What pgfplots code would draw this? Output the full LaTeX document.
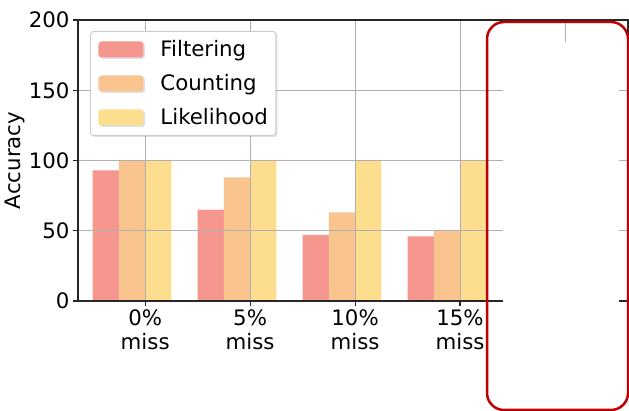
\documentclass[border=0pt]{standalone}
\usepackage{fontspec}
\setmainfont{DejaVu Sans}
\usepackage{pgfplots}
\pgfplotsset{compat=1.18}
\usetikzlibrary{shadows}
\definecolor{cFilt}{RGB}{245,151,143}
\definecolor{cCount}{RGB}{250,196,142}
\definecolor{cLike}{RGB}{253,222,143}
\definecolor{gridc}{RGB}{176,176,176}
\definecolor{legc}{RGB}{204,204,204}
\definecolor{redbox}{RGB}{192,0,0}
\definecolor{spine}{RGB}{38,38,38}
\newcommand{\F}{\fontsize{21.3bp}{24bp}\selectfont}
\begin{document}
\begin{tikzpicture}
\path[use as bounding box] (0,0) rectangle (629bp,411bp);
\begin{axis}[
  at={(78bp,110bp)}, anchor=south west,
  scale only axis, width=550bp, height=281bp,
  xmin=-0.64, xmax=4.6, ymin=0, ymax=200,
  ybar, bar width=0.25,
  xtick={0,1,2,3,4},
  xticklabels={{0\%\\miss},{5\%\\miss},{10\%\\miss},{15\%\\miss},{}},
  ytick={0,50,100,150,200},
  xticklabel style={align=center, font=\F},
  yticklabel style={font=\F},
  /pgf/number format/assume math mode=true,
  grid=major, major grid style={gridc, line width=1bp},
  axis on top,
  axis line style={spine, line width=1.2bp},
  tick style={spine, line width=1.2bp},
  tick align=outside, major tick length=5bp,
  tick pos=left,
  ylabel={Accuracy},
  every axis y label/.style={at={(axis description cs:0,0.5)}, xshift=-63bp, rotate=90, anchor=center, font=\F},
  legend style={at={(0.0218,0.961)}, anchor=north west, font=\F,
    draw=legc, fill=white, rounded corners=3bp, line width=1bp,
    inner xsep=8bp, inner ysep=10bp, row sep=18bp, column sep=17bp,
    nodes={inner sep=0pt, text height=15bp, text depth=0bp},
    column 2/.style={nodes={text width=111bp}},
    drop shadow={shadow xshift=1.5bp, shadow yshift=-1.5bp, opacity=0.25}},
  legend cell align=left,
]
\addplot[fill=cFilt, draw=none, bar shift=-0.375,
  legend image code/.code={\fill[cFilt] (0bp,-8bp) rectangle (45bp,8bp);}]
  coordinates {(0,93) (1,65) (2,47) (3,46)};
\addplot[fill=cCount, draw=none, bar shift=-0.125,
  legend image code/.code={\fill[cCount] (0bp,-8bp) rectangle (45bp,8bp);}]
  coordinates {(0,100) (1,88) (2,63) (3,50)};
\addplot[fill=cLike, draw=none, bar shift=0.125,
  legend image code/.code={\fill[cLike] (0bp,-8bp) rectangle (45bp,8bp);}]
  coordinates {(0,100) (1,100) (2,100) (3,100)};
\legend{Filtering,Counting,Likelihood}
\end{axis}
\fill[white] (503bp,0bp) rectangle (619bp,369bp);
\draw[redbox, line width=2.5bp, rounded corners=17bp] (487bp,1bp) rectangle (628bp,389bp);
\end{tikzpicture}
\end{document}
